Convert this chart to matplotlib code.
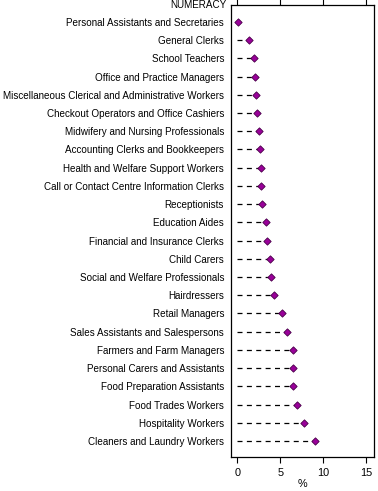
import matplotlib.pyplot as plt

occupations = [
    "Personal Assistants and Secretaries",
    "General Clerks",
    "School Teachers",
    "Office and Practice Managers",
    "Miscellaneous Clerical and Administrative Workers",
    "Checkout Operators and Office Cashiers",
    "Midwifery and Nursing Professionals",
    "Accounting Clerks and Bookkeepers",
    "Health and Welfare Support Workers",
    "Call or Contact Centre Information Clerks",
    "Receptionists",
    "Education Aides",
    "Financial and Insurance Clerks",
    "Child Carers",
    "Social and Welfare Professionals",
    "Hairdressers",
    "Retail Managers",
    "Sales Assistants and Salespersons",
    "Farmers and Farm Managers",
    "Personal Carers and Assistants",
    "Food Preparation Assistants",
    "Food Trades Workers",
    "Hospitality Workers",
    "Cleaners and Laundry Workers",
]
pct = [0.05, 1.4, 1.9, 2.0, 2.2, 2.3, 2.5, 2.6, 2.7, 2.8, 2.9, 3.3,
       3.45, 3.8, 3.95, 4.25, 5.2, 5.8, 6.5, 6.5, 6.5, 6.9, 7.8, 9.0]

plt.rcParams['font.family'] = ['Liberation Sans', 'DejaVu Sans']

fig = plt.figure(figsize=(3.78, 4.91), dpi=100)
ax = fig.add_axes([0.611, 0.069, 0.378, 0.921])

ypos = list(range(len(occupations)))
for y, v in zip(ypos, pct):
    ax.plot([0, v], [y, y], color="black", lw=0.9, linestyle=(0, (4, 3.5)))
ax.scatter(pct, ypos, marker="D", s=14, color="#990099",
           edgecolor="#4a004a", linewidth=0.6, zorder=3)

ax.set_xlim(-0.75, 15.9)
ax.set_ylim(len(occupations) - 1 + 0.88, -0.93)
ax.set_xticks([0, 5, 10, 15])
ax.set_yticks(ypos)
ax.set_yticklabels(occupations, fontsize=7.1)
ax.tick_params(axis="y", length=0, pad=5)
ax.tick_params(axis="x", labelsize=7.8, top=True, direction="out", length=4, width=0.8)
ax.set_xlabel("%", fontsize=7.8, labelpad=1)
ax.text(-0.03, 1.0, "NUMERACY", transform=ax.transAxes, ha="right", va="center", fontsize=7.1)
for s in ax.spines.values():
    s.set_linewidth(0.9)

fig.savefig("out.png", dpi=100)
plt.close(fig)
